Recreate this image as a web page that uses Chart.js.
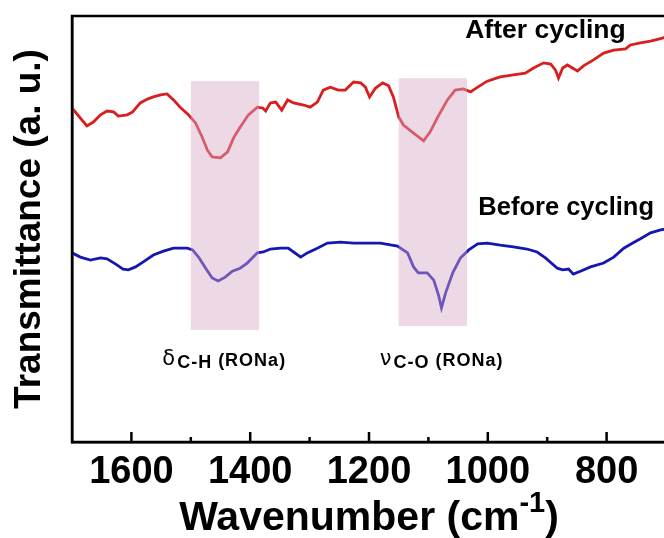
<!DOCTYPE html>
<html lang="en">
<head>
  <meta charset="UTF-8">
  <title>FTIR before / after cycling</title>
  <script src="https://cdn.jsdelivr.net/npm/chart.js"></script>
  <style>
    html, body {
      margin: 0;
      padding: 0;
      overflow: hidden;
      background: #fff;
    }
    canvas {
      display: block;
    }
  </style>
</head>
<body>
  <canvas id="ftir" width="668" height="538"></canvas>

  <script>
    // spectra (transmittance in arbitrary units, 0-100)
    const afterWn = [1700, 1675, 1664, 1652, 1641, 1630, 1622, 1607, 1598, 1585, 1573, 1563, 1551, 1540, 1529, 1518,
      1504, 1492, 1481, 1472, 1464, 1450, 1438, 1428, 1417, 1403, 1388, 1379, 1374, 1366, 1357, 1347, 1337, 1327,
      1310, 1299, 1287, 1277, 1265, 1252, 1240, 1226, 1214, 1206, 1199, 1189, 1177, 1167, 1159, 1150, 1142, 1125,
      1108, 1097, 1085, 1068, 1055, 1041, 1029, 1017, 1001, 979, 957, 937, 923, 906, 894, 886, 881, 874, 866, 849,
      839, 822, 805, 788, 768, 760, 743, 726, 706, 700];
    const afterT = [78.4, 74.2, 75.1, 76.8, 77.7, 77.5, 76.5, 76.8, 77.5, 79.6, 80.5, 81.0, 81.5, 81.7, 80.3, 78.6,
      76.8, 74.9, 71.6, 68.5, 66.9, 66.7, 68.1, 71.4, 73.9, 76.8, 78.6, 78.4, 77.7, 79.6, 79.8, 77.9, 80.3, 79.6,
      79.1, 78.6, 79.8, 82.6, 83.3, 82.6, 82.6, 84.5, 84.3, 83.3, 81.0, 83.1, 84.3, 83.6, 81.0, 76.3, 74.4, 72.5,
      70.7, 72.8, 76.1, 80.3, 82.6, 82.9, 82.2, 83.3, 84.7, 85.7, 86.2, 86.6, 87.8, 89.0, 88.7, 87.3, 85.4, 87.8,
      88.5, 87.1, 88.3, 89.7, 91.3, 92.0, 92.3, 93.2, 93.7, 94.1, 94.8, 95.1];

    const beforeWn = [1700, 1686, 1669, 1652, 1641, 1627, 1614, 1605, 1593, 1580, 1563, 1546, 1529, 1506, 1497, 1487,
      1475, 1464, 1454, 1442, 1430, 1417, 1405, 1388, 1378, 1366, 1349, 1336, 1327, 1315, 1304, 1287, 1270, 1248,
      1226, 1203, 1181, 1152, 1135, 1125, 1117, 1102, 1091, 1083, 1078, 1071, 1059, 1046, 1032, 1017, 1001, 979,
      957, 934, 917, 903, 883, 874, 864, 856, 844, 827, 805, 788, 771, 756, 743, 726, 709, 700];
    const beforeT = [44.4, 43.4, 42.7, 43.2, 43.0, 41.8, 40.6, 40.4, 41.1, 42.3, 43.9, 44.8, 45.5, 45.5, 45.1, 43.4,
      40.8, 38.5, 37.8, 38.7, 40.1, 40.8, 42.0, 44.4, 44.6, 45.3, 45.5, 45.5, 44.6, 43.4, 44.4, 45.5, 46.7, 46.9,
      46.7, 46.7, 46.7, 46.0, 44.4, 41.1, 39.7, 39.7, 38.0, 34.5, 31.5, 35.0, 39.7, 43.2, 45.1, 46.5, 46.7, 46.2,
      45.8, 45.3, 44.6, 43.2, 40.8, 40.4, 40.6, 39.4, 40.1, 41.1, 42.0, 43.4, 45.5, 46.7, 47.7, 49.1, 49.8, 50.0];

    // shaded assignment bands (wavenumber range, transmittance range)
    const bandFrom = [1500, 1150];
    const bandTo = [1385, 1035];
    const bandTop = [84.7, 85.4];
    const bandBottom = [26.3, 27.2];

    const FONT = '"Liberation Sans", Arial, sans-serif';

    function toPoints(xs, ys) {
      return xs.map((x, i) => ({ x: x, y: ys[i] }));
    }

    const decor = {
      id: 'decor',
      afterDatasetsDraw(chart) {
        const ctx = chart.ctx, x = chart.scales.x, y = chart.scales.y;
        ctx.save();
        ctx.fillStyle = 'rgba(214, 168, 200, 0.45)';
        bandFrom.forEach((f, i) => {
          const x0 = x.getPixelForValue(f), x1 = x.getPixelForValue(bandTo[i]);
          const y0 = y.getPixelForValue(bandTop[i]), y1 = y.getPixelForValue(bandBottom[i]);
          ctx.fillRect(x0, y0, x1 - x0, y1 - y0);
        });
        ctx.restore();
      },
      afterDraw(chart) {
        const ctx = chart.ctx, a = chart.chartArea, x = chart.scales.x, y = chart.scales.y;
        ctx.save();

        // frame + inward ticks
        ctx.strokeStyle = '#000';
        ctx.lineWidth = 2.5;
        ctx.strokeRect(a.left, a.top, a.right - a.left, a.bottom - a.top);
        x.ticks.forEach(t => {
          if (t.value <= 700 || t.value >= 1700) return;
          const px = x.getPixelForValue(t.value);
          const len = t.value % 200 === 0 ? 10 : 5;
          ctx.beginPath();
          ctx.moveTo(px, a.bottom);
          ctx.lineTo(px, a.bottom - len);
          ctx.stroke();
        });

        ctx.fillStyle = '#000';
        ctx.textBaseline = 'alphabetic';
        ctx.textAlign = 'left';

        // curve labels
        ctx.font = 'bold 26.5px ' + FONT;
        ctx.fillText('After cycling', x.getPixelForValue(1038), y.getPixelForValue(94.8));
        ctx.font = 'bold 25.5px ' + FONT;
        ctx.fillText('Before cycling', x.getPixelForValue(1016), y.getPixelForValue(53.3));

        // band assignments
        function assign(sym, sub, wn) {
          let px = x.getPixelForValue(wn);
          const base = y.getPixelForValue(18.1);
          ctx.letterSpacing = '0px';
          ctx.font = '21px "DejaVu Sans", ' + FONT;
          ctx.fillText(sym, px, base);
          px += ctx.measureText(sym).width + 2;
          ctx.letterSpacing = '1px';
          ctx.font = 'bold 18px ' + FONT;
          ctx.fillText(sub, px, base + 3);
          px += ctx.measureText(sub).width + 6;
          ctx.font = 'bold 18px ' + FONT;
          ctx.fillText('(RONa)', px, base + 1);
          ctx.letterSpacing = '0px';
        }
        assign('\u03b4', 'C-H', 1548);
        assign('\u03bd', 'C-O', 1182);

        // x-axis title with superscript
        const main = 'Wavenumber (cm', sup = '-1', end = ')';
        ctx.font = 'bold 41px ' + FONT;
        const wMain = ctx.measureText(main).width, wEnd = ctx.measureText(end).width;
        ctx.font = 'bold 29px ' + FONT;
        const wSup = ctx.measureText(sup).width;
        let tx = (a.left + a.right) / 2 - (wMain + wSup + wEnd) / 2;
        const ty = 530;
        ctx.font = 'bold 41px ' + FONT;
        ctx.fillText(main, tx, ty);
        tx += wMain;
        ctx.font = 'bold 29px ' + FONT;
        ctx.fillText(sup, tx, ty - 18);
        tx += wSup;
        ctx.font = 'bold 41px ' + FONT;
        ctx.fillText(end, tx, ty);

        ctx.restore();
      }
    };

    new Chart(document.getElementById('ftir'), {
      type: 'line',
      data: {
        datasets: [
          {
            label: 'After cycling',
            data: toPoints(afterWn, afterT),
            borderColor: '#d81e1e',
            borderWidth: 2.8,
            pointRadius: 0,
            tension: 0
          },
          {
            label: 'Before cycling',
            data: toPoints(beforeWn, beforeT),
            borderColor: '#1616b0',
            borderWidth: 2.8,
            pointRadius: 0,
            tension: 0
          }
        ]
      },
      options: {
        responsive: false,
        animation: false,
        layout: { padding: { top: 16, right: 2, left: 0, bottom: 0 } },
        plugins: {
          legend: { display: false },
          tooltip: { enabled: false }
        },
        scales: {
          x: {
            type: 'linear',
            reverse: true,
            min: 700,
            max: 1700,
            grid: { display: false, drawTicks: false },
            border: { display: true, color: '#000', width: 2.5 },
            ticks: {
              stepSize: 100,
              autoSkip: false,
              maxRotation: 0,
              padding: 8,
              color: '#000',
              font: { family: FONT, size: 38, weight: 'bold' },
              callback: v => (v % 200 === 0 && v < 1700 && v > 700) ? String(v) : ''
            },
            afterFit: s => {
              s.height = 96;
              s.paddingLeft = 0;
              s.paddingRight = 0;
            }
          },
          y: {
            min: 0,
            max: 100,
            grid: { display: false, drawTicks: false },
            border: { display: true, color: '#000', width: 2.5 },
            ticks: { display: false },
            title: {
              display: true,
              text: 'Transmittance (a. u.)',
              color: '#000',
              font: { family: FONT, size: 37, weight: 'bold' },
              padding: { top: 8, bottom: 0 }
            },
            afterFit: s => {
              s.width = 72;
              s.paddingTop = 0;
              s.paddingBottom = 0;
            }
          }
        }
      },
      plugins: [decor]
    });
  </script>
</body>
</html>
